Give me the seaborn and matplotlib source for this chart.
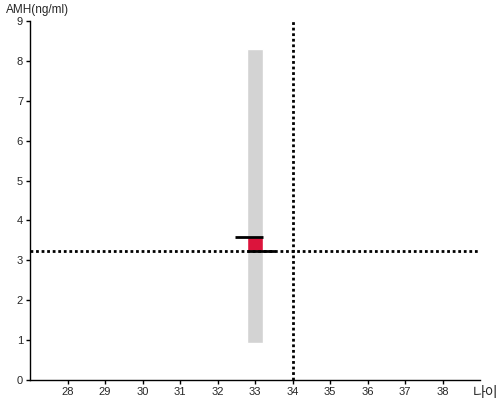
import matplotlib
matplotlib.use("Agg")
import matplotlib.pyplot as plt
import seaborn as sns
import pandas as pd

# data
ages = [33]
range_low = [0.93]
range_high = [8.30]
box_low = [3.23]
box_high = [3.58]
user_age = 34
user_amh = 3.23
x_ticks = [28, 29, 30, 31, 32, 33, 34, 35, 36, 37, 38]
y_ticks = [0, 1, 2, 3, 4, 5, 6, 7, 8, 9]

sns.set_style("white")
plt.rcParams['font.family'] = ['Liberation Sans', 'Noto Sans CJK KR', 'DejaVu Sans']

fig = plt.figure(figsize=(5, 4), dpi=100)
ax = fig.add_axes([0.06, 0.05, 0.90, 0.8975])

bw = 0.43
ax.bar(ages, [h - l for h, l in zip(range_high, range_low)], bottom=range_low,
       width=bw, color='#d3d3d3', zorder=1)
ax.bar(ages, [h - l for h, l in zip(box_high, box_low)], bottom=box_low,
       width=bw, color='#dc143c', zorder=2)

ext = 0.33
for a, v in zip(ages, box_high):
    df = pd.DataFrame({'x': [a - bw / 2 - ext, a + bw / 2], 'y': [v, v]})
    sns.lineplot(data=df, x='x', y='y', color='black', linewidth=2, ax=ax,
                 estimator=None, sort=False, zorder=4, solid_capstyle='butt')
for a, v in zip(ages, box_low):
    df = pd.DataFrame({'x': [a - bw / 2, a + bw / 2 + ext], 'y': [v, v]})
    sns.lineplot(data=df, x='x', y='y', color='black', linewidth=2, ax=ax,
                 estimator=None, sort=False, zorder=4, solid_capstyle='butt')

ax.axhline(user_amh, color='black', linestyle=(0, (1, 1)), linewidth=2, zorder=3)
ax.axvline(user_age, color='black', linestyle=(0, (1, 1)), linewidth=2, zorder=3)

ax.set_xlim(27, 39)
ax.set_ylim(0, 9)
ax.set_xticks(x_ticks)
ax.set_yticks(y_ticks)
ax.tick_params(axis='both', labelsize=8, length=3, width=1, color='black',
               direction='out', pad=2, left=True, bottom=True)
for s in ['top', 'right']:
    ax.spines[s].set_visible(False)
for s in ['left', 'bottom']:
    ax.spines[s].set_color('black')
    ax.spines[s].set_linewidth(1)
ax.set_xlabel('')
ax.set_ylabel('')

fig.text(0.012, 0.975, 'AMH(ng/ml)', fontsize=8.5, ha='left', va='center')
fig.text(0.945, 0.018, '나이', fontsize=10, ha='left', va='center',
         family=['Noto Sans CJK KR', 'DejaVu Sans'])

fig.savefig('out.png', dpi=100)
